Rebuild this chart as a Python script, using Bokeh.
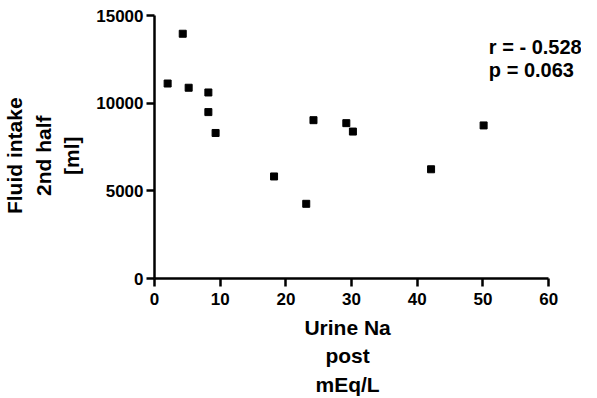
from bokeh.plotting import figure
from bokeh.models import Range1d, FixedTicker, Label
from bokeh.embed import file_html
from bokeh.resources import INLINE

urine_na = [2, 4.3, 5.2, 8.2, 8.2, 9.3, 18.2, 23.1, 24.2, 29.2, 30.2, 42.1, 50.1]
fluid_intake = [11120, 13960, 10880, 10610, 9490, 8300, 5820, 4260, 9030, 8860, 8380, 6230, 8730]
x_ticks = [0, 10, 20, 30, 40, 50, 60]
y_ticks = [0, 5000, 10000, 15000]
x_label_lines = ["Urine Na", "post", "mEq/L"]
y_label_lines = ["Fluid intake", "2nd half", "[ml]"]
stats_lines = ["r = - 0.528", "p = 0.063"]

FONT = "Liberation Sans"
NB = "\u00a0"

p = figure(width=581, height=398, output_backend="svg", toolbar_location=None,
           x_range=Range1d(0, 65), y_range=Range1d(0, 15000),
           min_border_left=146, min_border_right=0, min_border_top=15, min_border_bottom=109)
p.outline_line_color = None
p.xgrid.visible = False
p.ygrid.visible = False

p.scatter(urine_na, fluid_intake, marker="square", size=7, color="black")

for ax in (p.xaxis[0], p.yaxis[0]):
    ax.axis_line_width = 2.5
    ax.axis_line_color = "black"
    ax.major_tick_line_width = 2.5
    ax.major_tick_line_color = "black"
    ax.major_tick_out = 8
    ax.major_tick_in = 0
    ax.minor_tick_line_color = None
    ax.major_label_text_font = FONT
    ax.major_label_text_font_style = "bold"
    ax.major_label_text_font_size = "17px"
    ax.major_label_text_color = "black"
    ax.axis_label_text_font = FONT
    ax.axis_label_text_font_style = "bold"
    ax.axis_label_text_font_size = "21px"
    ax.axis_label_text_line_height = 1.24
    ax.axis_label_text_color = "black"

p.xaxis.bounds = (0, 60)
p.yaxis.bounds = (0, 15000)
p.xaxis.ticker = FixedTicker(ticks=x_ticks)
p.yaxis.ticker = FixedTicker(ticks=y_ticks)
p.xaxis.major_label_standoff = 6
p.yaxis.major_label_standoff = 3
# trailing no-break spaces nudge the centred labels to the reference position
p.xaxis.axis_label = "\n".join(s + NB * 7 for s in x_label_lines)
p.yaxis.axis_label = "\n".join(s + NB * 3 for s in y_label_lines)
p.xaxis.axis_label_standoff = 8
p.yaxis.axis_label_standoff = 10

for txt, yv in zip(stats_lines, [13200, 11900]):
    p.add_layout(Label(x=50.9, y=yv, text=txt, text_font=FONT, text_font_style="bold",
                       text_font_size="20px", text_color="black", text_baseline="alphabetic"))

open("out.html", "w").write(file_html(p, INLINE))
